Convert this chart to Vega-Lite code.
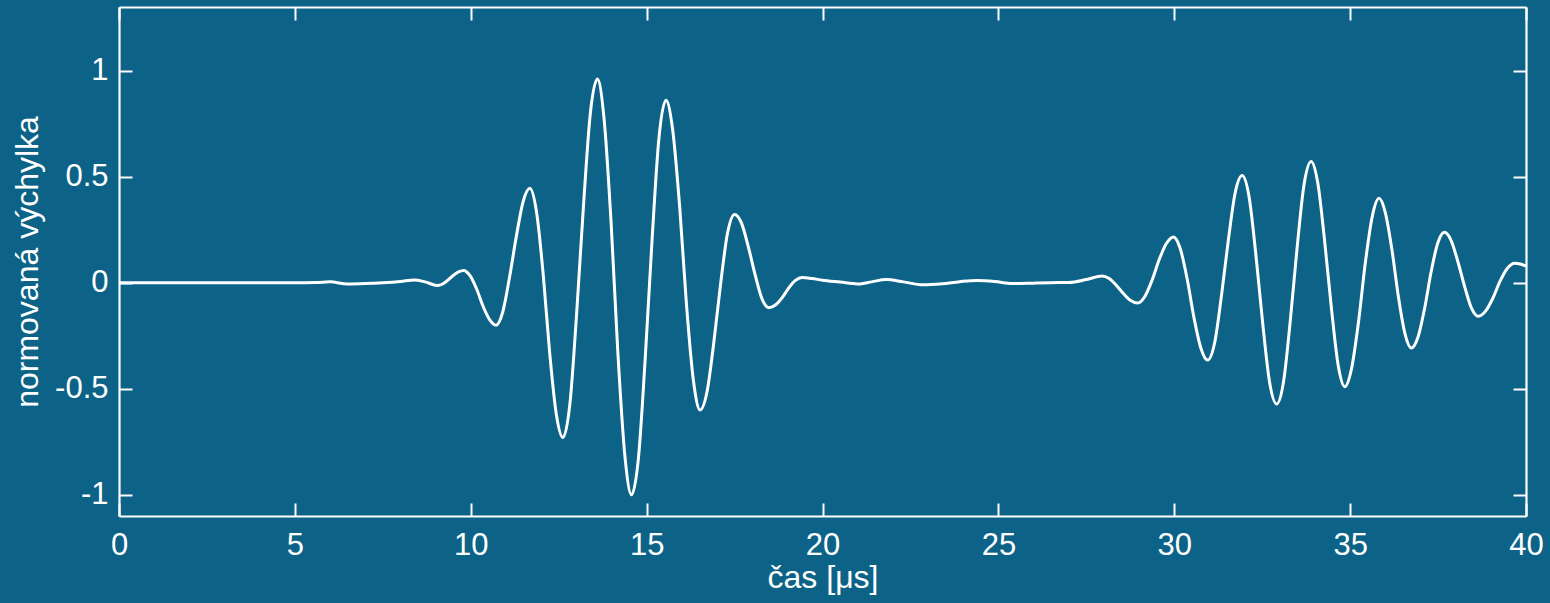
{
  "$schema": "https://vega.github.io/schema/vega-lite/v6.json",
  "autosize": {"type": "none"},
  "width": 1407,
  "height": 509,
  "padding": {"left": 119, "top": 7, "right": 24, "bottom": 87},
  "background": "#0c6387",
  "config": {
    "view": {"stroke": null},
    "axis": {
      "domainColor": "white", "domainWidth": 2.2,
      "tickColor": "white", "tickWidth": 2, "tickSize": -13,
      "labelColor": "white", "labelFont": "Liberation Sans", "labelFontSize": 31,
      "titleColor": "white", "titleFont": "Liberation Sans", "titleFontSize": 32, "titleFontWeight": "normal",
      "grid": false, "labelFlush": false, "labelOverlap": false
    }
  },
  "data": {"values": [
    {"t":0,"v":0},{"t":1,"v":0},{"t":2,"v":0},{"t":3,"v":0},{"t":4,"v":0},{"t":5,"v":0},
    {"t":5.6,"v":0.001},{"t":6.0,"v":0.004},{"t":6.5,"v":-0.006},{"t":7.0,"v":-0.004},{"t":7.5,"v":0.0},
    {"t":8.0,"v":0.006},{"t":8.4,"v":0.013},{"t":8.7,"v":0.004},{"t":9.05,"v":-0.013},
    {"t":9.2,"v":-0.006},{"t":9.35,"v":0.012},{"t":9.5,"v":0.034},{"t":9.65,"v":0.051},{"t":9.8,"v":0.058},
    {"t":9.98,"v":0.033},{"t":10.17,"v":-0.031},{"t":10.35,"v":-0.111},{"t":10.54,"v":-0.175},{"t":10.72,"v":-0.2},
    {"t":10.91,"v":-0.138},{"t":11.10,"v":0.023},{"t":11.30,"v":0.222},{"t":11.49,"v":0.383},{"t":11.68,"v":0.445},
    {"t":11.87,"v":0.333},{"t":12.06,"v":0.039},{"t":12.24,"v":-0.324},{"t":12.43,"v":-0.618},{"t":12.62,"v":-0.73},
    {"t":12.82,"v":-0.569},{"t":13.01,"v":-0.146},{"t":13.21,"v":0.376},{"t":13.40,"v":0.799},{"t":13.6,"v":0.96},
    {"t":13.79,"v":0.773},{"t":13.99,"v":0.283},{"t":14.18,"v":-0.323},{"t":14.38,"v":-0.813},{"t":14.57,"v":-1.0},
    {"t":14.77,"v":-0.822},{"t":14.96,"v":-0.357},{"t":15.16,"v":0.217},{"t":15.35,"v":0.682},{"t":15.55,"v":0.86},
    {"t":15.74,"v":0.721},{"t":15.94,"v":0.356},{"t":16.13,"v":-0.096},{"t":16.33,"v":-0.461},{"t":16.52,"v":-0.6},
    {"t":16.72,"v":-0.512},{"t":16.91,"v":-0.282},{"t":17.11,"v":0.004},{"t":17.30,"v":0.234},{"t":17.5,"v":0.322},
    {"t":17.70,"v":0.280},{"t":17.89,"v":0.170},{"t":18.09,"v":0.034},{"t":18.28,"v":-0.076},{"t":18.48,"v":-0.118},
    {"t":18.67,"v":-0.104},{"t":18.86,"v":-0.069},{"t":19.04,"v":-0.025},{"t":19.23,"v":0.011},{"t":19.42,"v":0.025},
    {"t":19.7,"v":0.02},{"t":20.0,"v":0.012},{"t":20.5,"v":0.003},{"t":21.0,"v":-0.006},{"t":21.4,"v":0.004},
    {"t":21.8,"v":0.015},{"t":22.3,"v":0.004},{"t":22.85,"v":-0.01},{"t":23.4,"v":-0.005},{"t":23.9,"v":0.005},
    {"t":24.4,"v":0.011},{"t":24.9,"v":0.006},{"t":25.4,"v":-0.004},{"t":26.0,"v":-0.002},{"t":26.5,"v":0.0},
    {"t":27.0,"v":0.001},{"t":27.5,"v":0.015},{"t":27.95,"v":0.032},
    {"t":28.15,"v":0.020},{"t":28.35,"v":-0.012},{"t":28.56,"v":-0.052},{"t":28.76,"v":-0.084},{"t":28.96,"v":-0.096},
    {"t":29.16,"v":-0.066},{"t":29.37,"v":0.012},{"t":29.57,"v":0.108},{"t":29.78,"v":0.186},{"t":29.98,"v":0.216},
    {"t":30.17,"v":0.161},{"t":30.37,"v":0.015},{"t":30.56,"v":-0.164},{"t":30.76,"v":-0.310},{"t":30.95,"v":-0.365},
    {"t":31.15,"v":-0.282},{"t":31.34,"v":-0.064},{"t":31.54,"v":0.204},{"t":31.73,"v":0.422},{"t":31.93,"v":0.505},
    {"t":32.13,"v":0.402},{"t":32.32,"v":0.133},{"t":32.52,"v":-0.200},{"t":32.71,"v":-0.469},{"t":32.91,"v":-0.572},
    {"t":33.11,"v":-0.463},{"t":33.30,"v":-0.177},{"t":33.50,"v":0.177},{"t":33.69,"v":0.463},{"t":33.89,"v":0.572},
    {"t":34.08,"v":0.471},{"t":34.27,"v":0.205},{"t":34.47,"v":-0.123},{"t":34.66,"v":-0.389},{"t":34.85,"v":-0.49},
    {"t":35.04,"v":-0.405},{"t":35.24,"v":-0.183},{"t":35.43,"v":0.091},{"t":35.63,"v":0.313},{"t":35.82,"v":0.398},
    {"t":36.00,"v":0.331},{"t":36.19,"v":0.154},{"t":36.37,"v":-0.064},{"t":36.56,"v":-0.241},{"t":36.74,"v":-0.308},
    {"t":36.93,"v":-0.256},{"t":37.12,"v":-0.119},{"t":37.30,"v":0.049},{"t":37.49,"v":0.186},{"t":37.68,"v":0.238},
    {"t":37.87,"v":0.200},{"t":38.06,"v":0.101},{"t":38.26,"v":-0.021},{"t":38.45,"v":-0.120},{"t":38.64,"v":-0.158},
    {"t":38.85,"v":-0.134},{"t":39.06,"v":-0.072},{"t":39.26,"v":0.006},{"t":39.47,"v":0.068},{"t":39.68,"v":0.092},
    {"t":39.84,"v":0.088},{"t":40.0,"v":0.078}
  ]},
  "layer": [
    {
      "mark": {"type": "line", "color": "white", "strokeWidth": 3, "interpolate": "monotone"},
      "encoding": {
        "x": {"field": "t", "type": "quantitative", "scale": {"domain": [0, 40], "nice": false},
              "axis": {"values": [0,5,10,15,20,25,30,35,40], "labelPadding": 27, "title": "čas [μs]", "titlePadding": 2}},
        "y": {"field": "v", "type": "quantitative", "scale": {"domain": [-1.1, 1.3], "nice": false, "zero": false},
              "axis": {"values": [-1,-0.5,0,0.5,1], "labelPadding": 24, "labelExpr": "'' + datum.value", "title": "normovaná výchylka", "titlePadding": 10}}
      }
    },
    {
      "mark": {"type": "line", "opacity": 0},
      "encoding": {
        "x": {"field": "t", "type": "quantitative", "scale": {"domain": [0, 40], "nice": false},
              "axis": {"orient": "top", "values": [0,5,10,15,20,25,30,35,40], "labels": false, "title": null}},
        "y": {"field": "v", "type": "quantitative", "scale": {"domain": [-1.1, 1.3], "nice": false, "zero": false},
              "axis": {"orient": "right", "values": [-1,-0.5,0,0.5,1], "labels": false, "title": null}}
      }
    }
  ],
  "resolve": {"axis": {"x": "independent", "y": "independent"}}
}
